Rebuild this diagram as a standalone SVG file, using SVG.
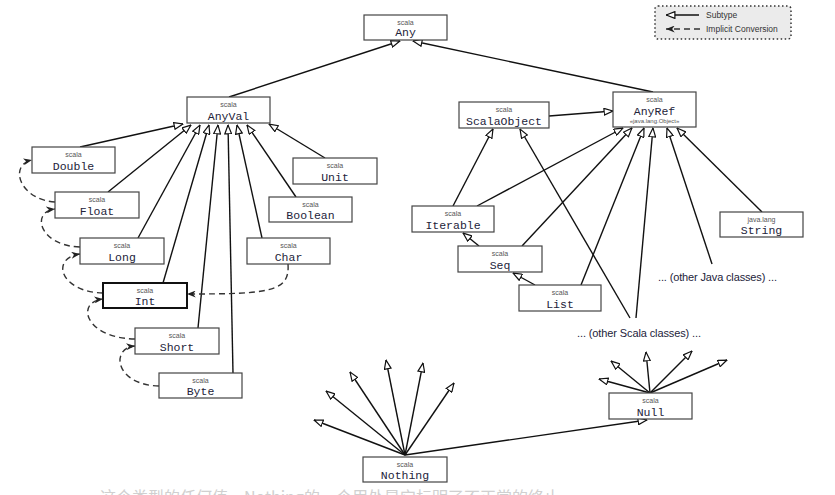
<svg xmlns="http://www.w3.org/2000/svg" width="835" height="495" viewBox="0 0 835 495">
<style>
.box{fill:#fff;stroke:#444;stroke-width:1.2}
.boxb{fill:#fff;stroke:#111;stroke-width:2}
.pk{font-family:"Liberation Sans","Open Sans",sans-serif;font-size:7px;fill:#555;text-anchor:middle}
.nm{font-family:"Liberation Mono","DejaVu Sans Mono",monospace;font-size:11.5px;fill:#23233a;text-anchor:middle}
.sm{font-family:"Liberation Sans","Open Sans",sans-serif;font-size:6px;fill:#555;text-anchor:middle}
.lbl{font-family:"Liberation Sans","Open Sans",sans-serif;font-size:11px;fill:#23233a}
.leg{font-family:"Liberation Sans","Open Sans",sans-serif;font-size:8.5px;fill:#333}
.sub{fill:none;stroke:#111;stroke-width:1.4;marker-end:url(#tri)}
.imp{fill:none;stroke:#333;stroke-width:1.4;stroke-dasharray:6,4;marker-end:url(#imp)}
</style>
<defs>
<marker id="tri" viewBox="0 0 10 8" refX="9.5" refY="4" markerWidth="10" markerHeight="8" markerUnits="userSpaceOnUse" orient="auto">
<path d="M0.6,0.6 L9.4,4 L0.6,7.4 z" fill="#fff" stroke="#111" stroke-width="1.2"/>
</marker>
<marker id="imp" viewBox="0 0 10 8" refX="10" refY="4" markerWidth="9" markerHeight="7" markerUnits="userSpaceOnUse" orient="auto">
<path d="M0,0 L10,4 L0,8 L3,4 z" fill="#222"/>
</marker>
</defs>
<rect width="835" height="495" fill="#fff"/>

<g id="legend">
<rect x="655" y="6" width="136" height="33" rx="3" fill="#ebebeb" stroke="#333" stroke-width="1.5" stroke-dasharray="1.5,2.5"/>
<line x1="699" y1="15" x2="666" y2="15" class="sub"/>
<line x1="700" y1="29" x2="666" y2="29" class="imp" stroke-dasharray="5,3"/>
<text x="706" y="18" class="leg">Subtype</text>
<text x="706" y="32" class="leg">Implicit Conversion</text>
</g>

<g id="connectors">
<path class="sub" d="M229,97 L400,41"/>
<path class="sub" d="M653,92 L413,41"/>
<path class="sub" d="M80,147 L183,124"/>
<path class="sub" d="M108,192 L191,125"/>
<path class="sub" d="M138,238 L200,125"/>
<path class="sub" d="M163,283 L209,125"/>
<path class="sub" d="M198,328 L218,125"/>
<path class="sub" d="M233,373 L228,125"/>
<path class="sub" d="M262,238 L237,125"/>
<path class="sub" d="M296,197 L247,125"/>
<path class="sub" d="M325,158 L269,124"/>
<path class="sub" d="M549,116 L613,111"/>
<path class="sub" d="M453,206 L493,129"/>
<path class="sub" d="M477,206 L623,128"/>
<path class="sub" d="M479,246 L463,233"/>
<path class="sub" d="M522,246 L632,128"/>
<path class="sub" d="M535,285 L513,273"/>
<path class="sub" d="M581,285 L644,128"/>
<path class="sub" d="M630,318 L520,129"/>
<path class="sub" d="M636,318 L653,128"/>
<path class="sub" d="M712,264 L667,128"/>
<path class="sub" d="M762,212 L677,128"/>
<path class="sub" d="M405,455 L647,420"/>
<path class="sub" d="M405,455 L314,420"/>
<path class="sub" d="M405,455 L326,391"/>
<path class="sub" d="M405,455 L350,372"/>
<path class="sub" d="M405,455 L386,360"/>
<path class="sub" d="M405,455 L423,363"/>
<path class="sub" d="M405,455 L454,383"/>
<path class="sub" d="M650,393 L599,379"/>
<path class="sub" d="M650,393 L611,361"/>
<path class="sub" d="M650,393 L646,352"/>
<path class="sub" d="M650,393 L692,351"/>
<path class="sub" d="M650,393 L727,360"/>
<path class="imp" d="M55,202 C20,200 8,165 32,160"/>
<path class="imp" d="M80,247 C40,246 30,212 55,209"/>
<path class="imp" d="M103,293 C60,292 50,258 80,254"/>
<path class="imp" d="M135,339 C85,338 75,302 103,299"/>
<path class="imp" d="M159,386 C115,385 110,348 135,346"/>
<path class="imp" d="M288,264 C290,292 270,294 187,294"/>
</g>

<g id="Any"><rect class="box" x="364" y="15" width="83" height="25"/><text class="pk" x="405.5" y="24.5">scala</text><text class="nm" x="405.5" y="36">Any</text></g>
<g id="AnyVal"><rect class="box" x="187" y="97" width="83" height="26"/><text class="pk" x="228.5" y="107">scala</text><text class="nm" x="228.5" y="119.5">AnyVal</text></g>
<g id="Double"><rect class="box" x="32" y="147" width="83" height="26"/><text class="pk" x="73.5" y="157">scala</text><text class="nm" x="73.5" y="169.5">Double</text></g>
<g id="Unit"><rect class="box" x="293" y="158" width="84" height="26"/><text class="pk" x="335" y="168">scala</text><text class="nm" x="335" y="180.5">Unit</text></g>
<g id="Float"><rect class="box" x="55" y="192" width="84" height="26"/><text class="pk" x="97" y="202">scala</text><text class="nm" x="97" y="214.5">Float</text></g>
<g id="Boolean"><rect class="box" x="269" y="197" width="83" height="25"/><text class="pk" x="310.5" y="206.5">scala</text><text class="nm" x="310.5" y="218.5">Boolean</text></g>
<g id="Long"><rect class="box" x="80" y="238" width="84" height="26"/><text class="pk" x="122" y="248">scala</text><text class="nm" x="122" y="260.5">Long</text></g>
<g id="Char"><rect class="box" x="247" y="238" width="83" height="26"/><text class="pk" x="288.5" y="248">scala</text><text class="nm" x="288.5" y="260.5">Char</text></g>
<g id="Int"><rect class="boxb" x="103" y="283" width="84" height="25"/><text class="pk" x="145" y="292.5">scala</text><text class="nm" x="145" y="304.5">Int</text></g>
<g id="Short"><rect class="box" x="135" y="328" width="84" height="26"/><text class="pk" x="177" y="338">scala</text><text class="nm" x="177" y="350.5">Short</text></g>
<g id="Byte"><rect class="box" x="159" y="373" width="83" height="25"/><text class="pk" x="200.5" y="382.5">scala</text><text class="nm" x="200.5" y="394.5">Byte</text></g>
<g id="ScalaObject"><rect class="box" x="459" y="102" width="90" height="26"/><text class="pk" x="504" y="112">scala</text><text class="nm" x="504" y="124.5">ScalaObject</text></g>
<g id="AnyRef"><rect class="box" x="613" y="92" width="83" height="35"/><text class="pk" x="654.5" y="101.5">scala</text><text class="nm" x="654.5" y="114.5">AnyRef</text><text class="sm" x="654.5" y="123">«java.lang.Object»</text></g>
<g id="Iterable"><rect class="box" x="412" y="206" width="82" height="26"/><text class="pk" x="453" y="216">scala</text><text class="nm" x="453" y="228.5">Iterable</text></g>
<g id="Seq"><rect class="box" x="458" y="246" width="84" height="26"/><text class="pk" x="500" y="256">scala</text><text class="nm" x="500" y="268.5">Seq</text></g>
<g id="List"><rect class="box" x="519" y="285" width="82" height="26"/><text class="pk" x="560" y="295">scala</text><text class="nm" x="560" y="307.5">List</text></g>
<g id="String"><rect class="box" x="720" y="212" width="83" height="25"/><text class="pk" x="761.5" y="221.5">java.lang</text><text class="nm" x="761.5" y="233.5">String</text></g>
<g id="Null"><rect class="box" x="609" y="393" width="83" height="26"/><text class="pk" x="650.5" y="403">scala</text><text class="nm" x="650.5" y="415.5">Null</text></g>
<g id="Nothing"><rect class="box" x="363" y="457" width="84" height="25"/><text class="pk" x="405" y="466.5">scala</text><text class="nm" x="405" y="478.5">Nothing</text></g>
<g id="otherJava"><text class="lbl" x="658" y="281" textLength="119">... (other Java classes) ...</text></g>
<g id="otherScala"><text class="lbl" x="577" y="337" textLength="124">... (other Scala classes) ...</text></g>
<text x="100" y="503" font-family="'Noto Sans CJK SC','Liberation Sans',sans-serif" font-size="16" fill="#d0d0d0">这个类型的任何值，Nothing的一个用处是它标明了不正常的终止</text>
</svg>
